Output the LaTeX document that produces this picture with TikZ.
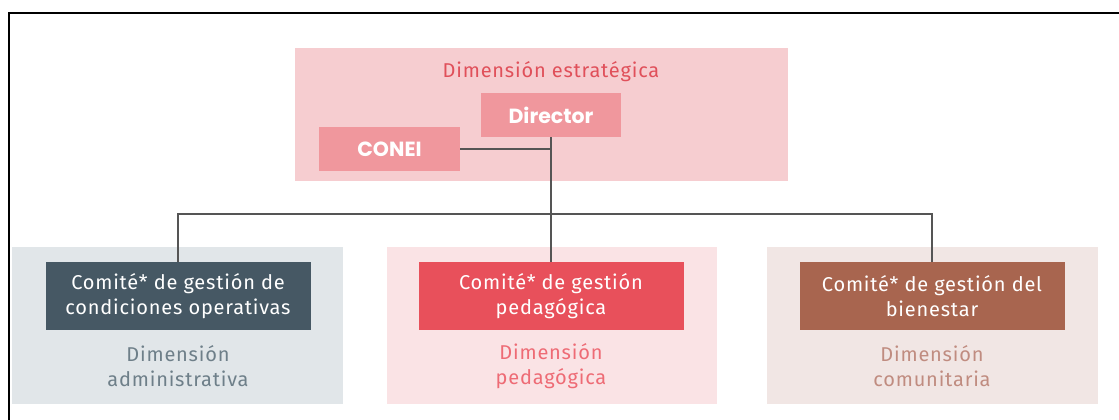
\documentclass[tikz,border=0pt]{standalone}
\usepackage{fontspec}
\setmainfont{Fira Sans}[LetterSpace=4]
\newfontfamily\boldround{Poppins}[UprightFont=* Bold]
\definecolor{stratbg}{HTML}{F6CDD0}
\definecolor{stratbox}{HTML}{F0979D}
\definecolor{strattxt}{HTML}{E0505A}
\definecolor{adminbg}{HTML}{E1E6E9}
\definecolor{adminbox}{HTML}{465864}
\definecolor{admintxt}{HTML}{6E7F89}
\definecolor{pedbg}{HTML}{FAE3E5}
\definecolor{pedbox}{HTML}{E8505B}
\definecolor{pedtxt}{HTML}{EE6B75}
\definecolor{combg}{HTML}{F1E6E4}
\definecolor{combox}{HTML}{A8654F}
\definecolor{comtxt}{HTML}{C08C80}
\definecolor{linecol}{HTML}{555555}
\begin{document}
\begin{tikzpicture}[x=1pt,y=-1pt,
  combox/.style={inner sep=0pt, outer sep=0pt, minimum width=265pt, minimum height=68pt, text=white, align=center, font=\fontsize{20}{25}\selectfont},
  dimlabel/.style={align=center, font=\fontsize{20}{25}\selectfont},
  topbox/.style={fill=stratbox, inner sep=0pt, outer sep=0pt, text=white, font=\boldround\fontsize{20.5}{22}\selectfont},
  conn/.style={draw=linecol, line width=1.2pt}]
\useasboundingbox (0,0) rectangle (1119,420);
\fill[white] (0,0) rectangle (1119,420);
\draw[black, line width=2pt] (1119,13) -- (9,13) -- (9,420);
% strategic dimension
\fill[stratbg] (295,48) rectangle (788,181);
\node[text=strattxt, font=\fontsize{20}{22}\selectfont] (strat) at (551,72) {Dimensión estratégica};
\node[topbox, minimum width=140pt, minimum height=44pt] (dir) at (551,115) {Director};
\node[topbox, minimum width=141pt, minimum height=44pt] (conei) at (389.5,149) {CONEI};
% background panels
\fill[adminbg] (12,247) rectangle (343,404);
\fill[pedbg] (387,247) rectangle (717,404);
\fill[combg] (767,247) rectangle (1098,404);
% committees
\node[combox, fill=adminbox] (adm) at (178,296) {Comité* de gestión de\\condiciones operativas};
\node[combox, fill=pedbox] (ped) at (551,296) {Comité* de gestión\\pedagógica};
\node[combox, fill=combox] (com) at (932,296) {Comité* de gestión del\\bienestar};
\node[dimlabel, text=admintxt] (admd) at (178,366) {Dimensión\\administrativa};
\node[dimlabel, text=pedtxt] (pedd) at (551,366) {Dimensión\\pedagógica};
\node[dimlabel, text=comtxt] (comd) at (932,366) {Dimensión\\comunitaria};
% connectors
\coordinate (bus) at (551,214);
\draw[conn] (dir.south) -- (ped.north);
\draw[conn] (conei.east) -- (conei.east -| dir.south);
\draw[conn] (adm.north) |- (bus) -| (com.north);
\end{tikzpicture}
\end{document}
